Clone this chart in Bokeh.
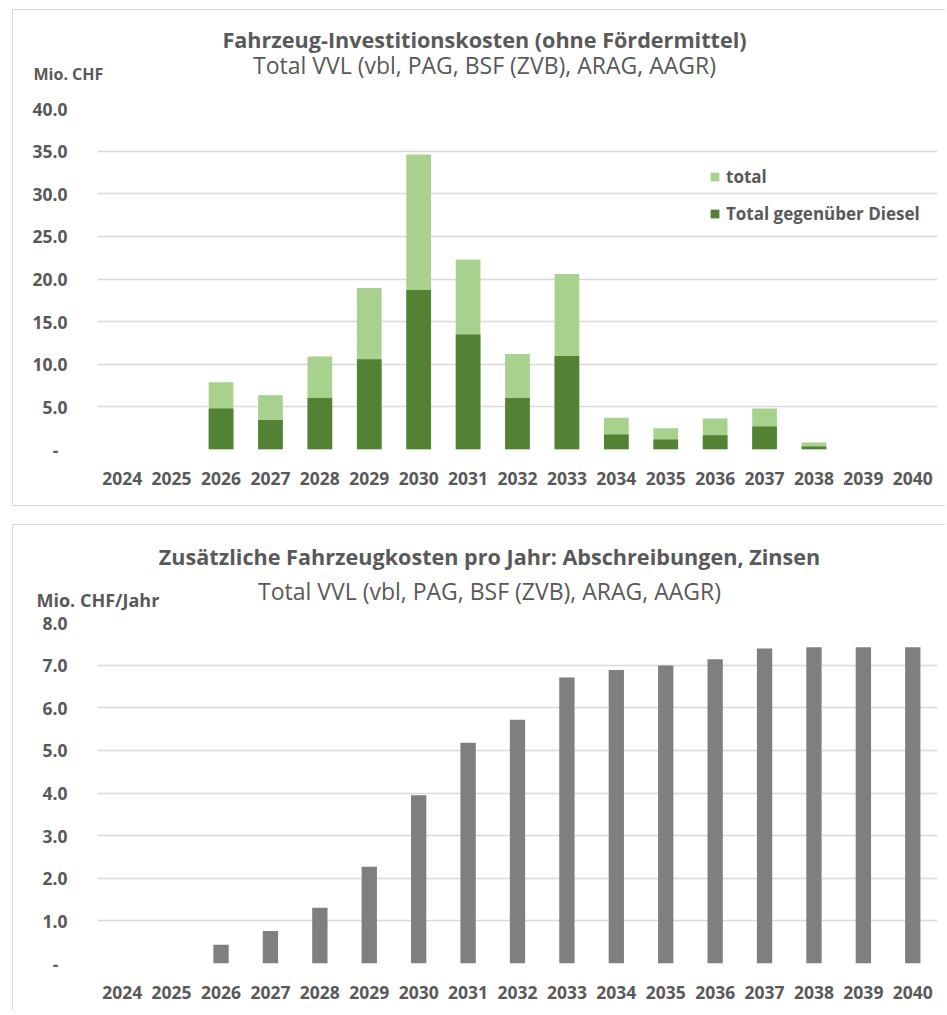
from bokeh.plotting import figure
from bokeh.layouts import column
from bokeh.models import (Range1d, FactorRange, FixedTicker, NumeralTickFormatter,
                          Label, Legend, LegendItem, ColumnDataSource)
from bokeh.embed import file_html
from bokeh.resources import INLINE

# ---- data -------------------------------------------------------------
years = [str(y) for y in range(2024, 2041)]

# vehicle investment (Mio. CHF), without subsidies
invest_total = [0, 0, 7.9, 6.35, 10.9, 18.95, 34.6, 22.3, 11.2, 20.6,
                3.72, 2.5, 3.63, 4.8, 0.82, 0, 0]
invest_vs_diesel = [0, 0, 4.8, 3.47, 6.05, 10.6, 18.7, 13.5, 6.05, 10.96,
                    1.75, 1.17, 1.67, 2.69, 0.35, 0, 0]

# additional vehicle costs per year (Mio. CHF/Jahr)
annual_costs = [0, 0, 0.44, 0.76, 1.31, 2.27, 3.95, 5.18, 5.72, 6.71,
                6.885, 6.99, 7.14, 7.39, 7.42, 7.42, 7.42]

invest_ticks = [0, 5, 10, 15, 20, 25, 30, 35, 40]
annual_ticks = [0, 1, 2, 3, 4, 5, 6, 7, 8]

TEXT = "#595959"
GRID = "#d9d9d9"
FONT = "Open Sans"
BOX = "1px solid #d9d9d9"


def style_axes(p, ticks):
    p.yaxis.ticker = FixedTicker(ticks=ticks)
    p.yaxis.formatter = NumeralTickFormatter(format="0.0")
    p.yaxis.major_label_overrides = {0: "-\u00a0\u00a0"}
    for ax in (p.xaxis[0], p.yaxis[0]):
        ax.axis_line_color = None
        ax.major_tick_line_color = None
        ax.minor_tick_line_color = None
        ax.major_label_text_font = FONT
        ax.major_label_text_font_style = "bold"
        ax.major_label_text_font_size = "17.5px"
        ax.major_label_text_color = TEXT
    p.yaxis.major_label_standoff = 24
    p.xaxis.major_label_standoff = 16
    p.xgrid.grid_line_color = None
    p.ygrid.grid_line_color = GRID
    p.ygrid.grid_line_width = 1.3
    p.outline_line_color = None
    p.background_fill_color = "white"
    p.border_fill_color = "white"


def add_texts(p, title, subtitle, unit, unit_size, cx, ty, sy, ux, uy):
    # header texts live in the top side panel, so they are not clipped to the frame
    p.add_layout(Label(x=cx, y=ty, x_units="screen", y_units="screen", text=title,
                       text_font=FONT, text_font_style="bold", text_font_size="21.6px",
                       text_color=TEXT, text_align="center", text_baseline="middle"),
                 "above")
    p.add_layout(Label(x=cx, y=sy, x_units="screen", y_units="screen", text=subtitle,
                       text_font=FONT, text_font_size="23px",
                       text_color=TEXT, text_align="center", text_baseline="middle"),
                 "above")
    p.add_layout(Label(x=ux, y=uy, x_units="screen", y_units="screen", text=unit,
                       text_font=FONT, text_font_style="bold", text_font_size=unit_size,
                       text_color=TEXT, text_align="left", text_baseline="middle"),
                 "above")


# ---- chart 1: investment costs ----------------------------------------
src1 = ColumnDataSource(dict(year=years, total=invest_total, diesel=invest_vs_diesel))

p1 = figure(x_range=FactorRange(factors=years), y_range=Range1d(0, 40),
            width=933, height=497, min_border_left=84, min_border_right=9,
            min_border_top=98, min_border_bottom=58,
            output_backend="svg", toolbar_location=None)
p1.margin = (9, 0, 0, 12)
p1.styles = {"border-left": BOX, "border-top": BOX, "border-bottom": BOX}

r_total = p1.vbar(x="year", top="total", width=0.5, source=src1,
                  fill_color="#a9d18e", line_color=None)
r_diesel = p1.vbar(x="year", top="diesel", width=0.5, source=src1,
                   fill_color="#548235", line_color=None)
style_axes(p1, invest_ticks)

legend = Legend(items=[LegendItem(label="total", renderers=[r_total]),
                       LegendItem(label="Total gegenüber Diesel", renderers=[r_diesel])],
                location=(612, 224), padding=0, margin=0, spacing=13,
                glyph_width=11, glyph_height=11, label_standoff=6, label_height=24,
                label_text_font=FONT, label_text_font_style="bold",
                label_text_font_size="17px", label_text_color=TEXT,
                border_line_color=None, background_fill_alpha=0)
p1.add_layout(legend)

add_texts(p1, "Fahrzeug-Investitionskosten (ohne Fördermittel)",
          "Total VVL (vbl, PAG, BSF (ZVB), ARAG, AAGR)", "Mio. CHF", "16px",
          387, 69, 15, -64, -26)

# ---- chart 2: additional annual costs ---------------------------------
src2 = ColumnDataSource(dict(year=years, cost=annual_costs))

p2 = figure(x_range=FactorRange(factors=years), y_range=Range1d(0, 8),
            width=933, height=486, min_border_left=80, min_border_right=8,
            min_border_top=97, min_border_bottom=48,
            output_backend="svg", toolbar_location=None)
p2.margin = (18, 0, 0, 12)
p2.styles = {"border-left": BOX, "border-top": BOX}

p2.vbar(x="year", top="cost", width=0.31, source=src2,
        fill_color="#7f7f7f", line_color=None)
style_axes(p2, annual_ticks)

add_texts(p2, "Zusätzliche Fahrzeugkosten pro Jahr: Abschreibungen, Zinsen",
          "Total VVL (vbl, PAG, BSF (ZVB), ARAG, AAGR)", "Mio. CHF/Jahr", "18px",
          392, 66, 3, -61, -38)

layout = column(p1, p2)
open("out.html", "w").write(file_html(layout, INLINE))
